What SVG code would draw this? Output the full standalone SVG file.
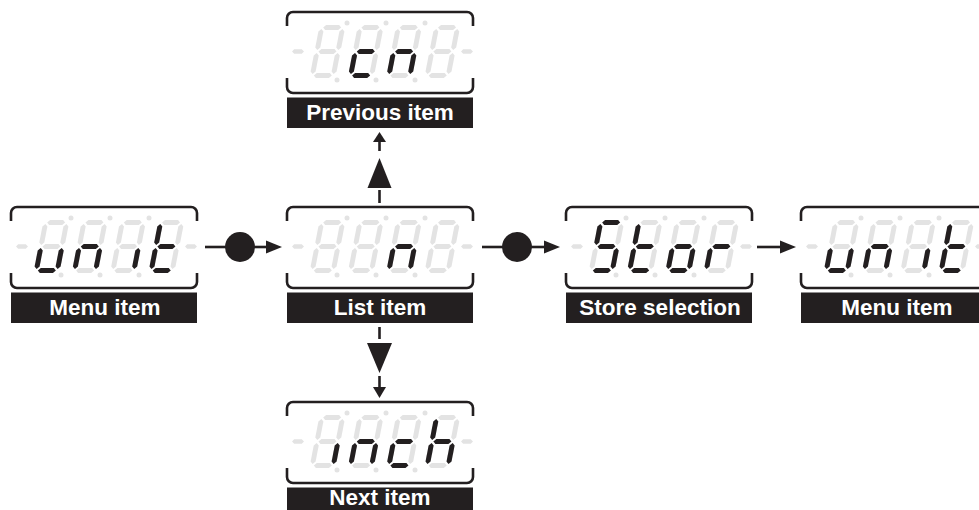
<svg xmlns="http://www.w3.org/2000/svg" xmlns:xlink="http://www.w3.org/1999/xlink" width="979" height="510" viewBox="0 0 979 510">
  <style>
    .ink { fill: #231f20; }
    .off { fill: #e3e3e3; }
    .frame { fill: none; stroke: #231f20; stroke-width: 2.6; stroke-linecap: butt; }
    .bar { fill: #231f20; }
    .label { fill: #ffffff; font-family: "Liberation Sans", Arial, sans-serif; font-weight: bold; font-size: 22.5px; text-anchor: middle; }
    .wire { fill: none; stroke: #231f20; stroke-width: 2.6; }
  </style>
  <defs>
    <!-- seven segments of one digit, centred on (0,0), upright (slant applied per digit) -->
    <polygon id="sa" points="-9,-24 -6.5,-26.5 6.5,-26.5 9,-24 6.5,-21.5 -6.5,-21.5"/>
    <polygon id="sb" points="10.5,-22.5 13,-20 13,-4 10.5,-1.5 8,-4 8,-20"/>
    <polygon id="sc" points="10.5,1.5 13,4 13,20 10.5,22.5 8,20 8,4"/>
    <polygon id="sd" points="-9,24 -6.5,21.5 6.5,21.5 9,24 6.5,26.5 -6.5,26.5"/>
    <polygon id="se" points="-10.5,1.5 -8,4 -8,20 -10.5,22.5 -13,20 -13,4"/>
    <polygon id="sf" points="-10.5,-22.5 -8,-20 -8,-4 -10.5,-1.5 -13,-4 -13,-20"/>
    <polygon id="sg" points="-9,0 -6.5,-2.5 6.5,-2.5 9,0 6.5,2.5 -6.5,2.5"/>
    <!-- unlit "8" -->
    <g id="d8" class="off">
      <use xlink:href="#sa"/><use xlink:href="#sb"/><use xlink:href="#sc"/><use xlink:href="#sd"/>
      <use xlink:href="#se"/><use xlink:href="#sf"/><use xlink:href="#sg"/>
    </g>
    <!-- display housing: bracket frame, side dashes, unlit dots and digits, label bar -->
    <g id="panel">
      <path class="frame" d="M0,14 V6 A6,6 0 0 1 6,0 H180 A6,6 0 0 1 186,6 V14"/>
      <path class="frame" d="M0,66 V75 A6,6 0 0 0 6,81 H180 A6,6 0 0 0 186,75 V66"/>
      <polygon class="off" points="5,39.5 7.2,37.3 14.8,37.3 17,39.5 14.8,41.7 7.2,41.7"/>
      <polygon class="off" points="174,39.5 176.2,37.3 183.8,37.3 186,39.5 183.8,41.7 176.2,41.7"/>
      <g class="off">
        <circle cx="60" cy="11" r="2.5"/><circle cx="99" cy="11" r="2.5"/><circle cx="138" cy="11" r="2.5"/>
        <circle cx="50" cy="68" r="2.5"/><circle cx="89" cy="68" r="2.5"/><circle cx="128" cy="68" r="2.5"/>
      </g>
      <use xlink:href="#d8" transform="translate(40.5,39.5) skewX(-11)"/>
      <use xlink:href="#d8" transform="translate(78.8,39.5) skewX(-11)"/>
      <use xlink:href="#d8" transform="translate(117.1,39.5) skewX(-11)"/>
      <use xlink:href="#d8" transform="translate(155.4,39.5) skewX(-11)"/>
      <rect class="bar" x="0" y="85.5" width="186" height="30.5"/>
    </g>
  </defs>

  <!-- connectors -->
  <g id="connectors">
    <!-- menu item -> list item -->
    <line class="wire" x1="205" y1="247" x2="226" y2="247"/>
    <circle class="ink" cx="240" cy="247" r="15"/>
    <line class="wire" x1="254" y1="247" x2="268" y2="247"/>
    <polygon class="ink" points="266,240.5 282,247 266,253.5"/>
    <!-- list item -> store selection -->
    <line class="wire" x1="482" y1="247" x2="503" y2="247"/>
    <circle class="ink" cx="517" cy="247" r="15"/>
    <line class="wire" x1="531" y1="247" x2="546" y2="247"/>
    <polygon class="ink" points="544,240.5 560,247 544,253.5"/>
    <!-- store selection -> menu item -->
    <line class="wire" x1="757" y1="247" x2="782" y2="247"/>
    <polygon class="ink" points="780,240.5 796,247 780,253.5"/>
    <!-- list item -> previous item -->
    <line class="wire" x1="379.5" y1="203" x2="379.5" y2="190"/>
    <polygon class="ink" points="367.5,188 379.5,158 391.5,188"/>
    <line class="wire" x1="379.5" y1="151" x2="379.5" y2="141"/>
    <polygon class="ink" points="373,142 379.5,132 386,142"/>
    <!-- list item -> next item -->
    <line class="wire" x1="379.5" y1="327" x2="379.5" y2="339"/>
    <polygon class="ink" points="367,343 392,343 379.5,373"/>
    <line class="wire" x1="379.5" y1="376" x2="379.5" y2="389"/>
    <polygon class="ink" points="373,387 386,387 379.5,398"/>
  </g>

  <!-- previous item: " cn " -->
  <g id="previous-item" transform="translate(287,12)">
    <use xlink:href="#panel"/>
    <g class="ink" transform="translate(78.8,39.5) skewX(-11)"><use xlink:href="#sd"/><use xlink:href="#se"/><use xlink:href="#sg"/></g>
    <g class="ink" transform="translate(117.1,39.5) skewX(-11)"><use xlink:href="#sc"/><use xlink:href="#se"/><use xlink:href="#sg"/></g>
    <text class="label" x="93" y="107.5">Previous item</text>
  </g>

  <!-- menu item: "unit" -->
  <g id="menu-item" transform="translate(11,207)">
    <use xlink:href="#panel"/>
    <g class="ink" transform="translate(40.5,39.5) skewX(-11)"><use xlink:href="#sc"/><use xlink:href="#sd"/><use xlink:href="#se"/></g>
    <g class="ink" transform="translate(78.8,39.5) skewX(-11)"><use xlink:href="#sc"/><use xlink:href="#se"/><use xlink:href="#sg"/></g>
    <g class="ink" transform="translate(117.1,39.5) skewX(-11)"><use xlink:href="#sc"/></g>
    <g class="ink" transform="translate(155.4,39.5) skewX(-11)"><use xlink:href="#sd"/><use xlink:href="#se"/><use xlink:href="#sf"/><use xlink:href="#sg"/></g>
    <text class="label" x="94" y="108">Menu item</text>
  </g>

  <!-- list item: "n" on the third digit -->
  <g id="list-item" transform="translate(287,207)">
    <use xlink:href="#panel"/>
    <g class="ink" transform="translate(117.1,39.5) skewX(-11)"><use xlink:href="#sc"/><use xlink:href="#se"/><use xlink:href="#sg"/></g>
    <text class="label" x="93" y="108">List item</text>
  </g>

  <!-- store selection: "Stor" -->
  <g id="store-selection" transform="translate(566,207)">
    <use xlink:href="#panel"/>
    <g class="ink" transform="translate(40.5,39.5) skewX(-11)"><use xlink:href="#sa"/><use xlink:href="#sf"/><use xlink:href="#sg"/><use xlink:href="#sc"/><use xlink:href="#sd"/></g>
    <g class="ink" transform="translate(78.8,39.5) skewX(-11)"><use xlink:href="#sd"/><use xlink:href="#se"/><use xlink:href="#sf"/><use xlink:href="#sg"/></g>
    <g class="ink" transform="translate(117.1,39.5) skewX(-11)"><use xlink:href="#sc"/><use xlink:href="#sd"/><use xlink:href="#se"/><use xlink:href="#sg"/></g>
    <g class="ink" transform="translate(155.4,39.5) skewX(-11)"><use xlink:href="#se"/><use xlink:href="#sg"/></g>
    <text class="label" x="94" y="108">Store selection</text>
  </g>

  <!-- menu item again: "unit" -->
  <g id="menu-item-return" transform="translate(801,207)">
    <use xlink:href="#panel"/>
    <g class="ink" transform="translate(40.5,39.5) skewX(-11)"><use xlink:href="#sc"/><use xlink:href="#sd"/><use xlink:href="#se"/></g>
    <g class="ink" transform="translate(78.8,39.5) skewX(-11)"><use xlink:href="#sc"/><use xlink:href="#se"/><use xlink:href="#sg"/></g>
    <g class="ink" transform="translate(117.1,39.5) skewX(-11)"><use xlink:href="#sc"/></g>
    <g class="ink" transform="translate(155.4,39.5) skewX(-11)"><use xlink:href="#sd"/><use xlink:href="#se"/><use xlink:href="#sf"/><use xlink:href="#sg"/></g>
    <text class="label" x="96" y="108">Menu item</text>
  </g>

  <!-- next item: "inch" -->
  <g id="next-item" transform="translate(287,402)">
    <use xlink:href="#panel"/>
    <g class="ink" transform="translate(40.5,39.5) skewX(-11)"><use xlink:href="#sc"/></g>
    <g class="ink" transform="translate(78.8,39.5) skewX(-11)"><use xlink:href="#sc"/><use xlink:href="#se"/><use xlink:href="#sg"/></g>
    <g class="ink" transform="translate(117.1,39.5) skewX(-11)"><use xlink:href="#sd"/><use xlink:href="#se"/><use xlink:href="#sg"/></g>
    <g class="ink" transform="translate(155.4,39.5) skewX(-11)"><use xlink:href="#sc"/><use xlink:href="#se"/><use xlink:href="#sf"/><use xlink:href="#sg"/></g>
    <text class="label" x="93" y="103" font-size="21">Next item</text>
  </g>
</svg>
